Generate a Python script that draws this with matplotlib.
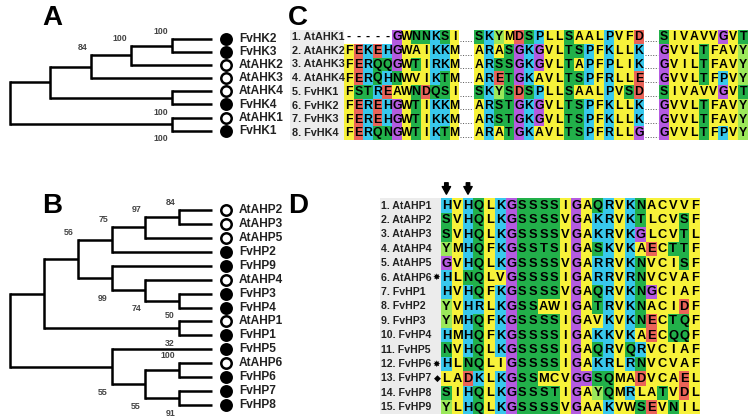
import matplotlib
matplotlib.use("Agg")
import matplotlib.pyplot as plt
from matplotlib.patches import Rectangle

# ---------------- data ----------------
# trees: (depth, bootstrap, label_side, children) ; leaves are names
tree_a = (10, None, None, [
    (50, None, None, [
        (91, "84", "a", [
            (131, "100", "a", [
                (172, "100", "a", ["FvHK2", "FvHK3"]),
                "AtAHK2"]),
            "AtAHK3"]),
        (172, "100", "b", ["AtAHK4", "FvHK4"])]),
    (172, "100", "b", ["AtAHK1", "FvHK1"])])

tree_b = (10, None, None, [
    (44, None, None, [
        (78, "56", "a", [
            (112, "75", "a", [
                (145, "97", "a", [
                    (179, "84", "a", ["AtAHP2", "AtAHP3"]),
                    "AtAHP5"]),
                "FvHP2"]),
            (112, "99", "b", [
                "FvHP9",
                (145, "74", "b", [
                    "AtAHP4",
                    (179, "50", "b", ["FvHP3", "FvHP4"])])])]),
        (179, "32", "b", ["AtAHP1", "FvHP1"])]),
    (112, "55", "b", [
        "FvHP5",
        (145, "55", "b", [
            (179, "100", "a", ["AtAHP6", "FvHP6"]),
            (179, "91", "b", ["FvHP7", "FvHP8"])])])])

c_labels = ["1. AtAHK1", "2. AtAHK2", "3. AtAHK3", "4. AtAHK4",
            "5. FvHK1", "6. FvHK2", "7. FvHK3", "8. FvHK4"]
c_block1 = ["-----GWNNKSI", "FEKEHGWAIKKM", "FERQQGWTIRKM", "FERQHNWVIKTM",
            "FSTREAWNDQSI", "FEREHGWTIKKM", "FEREHGWTIKKM", "FERQNGWTIKTM"]
c_block2 = ["SKYMDSPLLSAALPVFD", "ARASGKGVLTSPFKLLK", "ARSSGKGVLTAPFPLIK",
            "ARETGKAVLTSPFRLLE", "SKYSDSPLLSAALPVSD", "ARSTGKGVLTSPFKLLK",
            "ARSTGKGVLTSPFKLLK", "ARATGKAVLTSPFRLLG"]
c_block3 = ["SIVAVVGVT", "GVVLTFAVY", "GVILTFAVY", "GVVLTFPVY", "SIVAVVGVT",
            "GVVLTFAVY", "GVVLTFAVY", "GVVLTFPVY"]

d_labels = ["1. AtAHP1", "2. AtAHP2", "3. AtAHP3", "4. AtAHP4", "5. AtAHP5",
            "6. AtAHP6", "7. FvHP1", "8. FvHP2", "9. FvHP3", "10. FvHP4",
            "11. FvHP5", "12. FvHP6", "13. FvHP7", "14. FvHP8", "15. FvHP9"]
d_marks = ["", "", "", "", "", "\u2738", "", "", "", "", "", "\u2738", "\u25C6", "", ""]
d_seqs = ["HVHQLKGSSSSIGAQRVKNACVVF", "SVHQLKGSSSSVGAKRVKTLCVSF",
          "SVHQLKGSSSSVGAKRVKGLCVTL", "YMHQFKGSSTSIGASKVKAECTTF",
          "GVHQLKGSSSSVGARRVKNVCISF", "HLNQLVGSSSSIGARRVRNVCVAF",
          "HVHQFKGSSSSVGAQRVKNGCIAF", "YVHRLKGSSAWIGATRVKNACIDF",
          "YMHQFKGSSSSIGAVKVKNECTQF", "HMHQFKGSSSSIGAKKVKAECQQF",
          "NVHQLKGSSSSIGAQRVQRVCIAF", "HLNQLIGSSSSIGAKRLRNVCVAF",
          "LADKLKGSSMCVGGSQMADVCAEL", "SIHQLKGSSSTIGAYQMRLATVDL",
          "YLHQLKGSSSSVGAAKVWSEVNIL"]
d_arrow_cols = [0, 2]

# ---------------- style ----------------
YEL, GRN, CYN, PUR, RED, LGR = "#f7f23a", "#22b04a", "#38c8ec", "#b45be0", "#ea6458", "#9be85a"
res_col = {}
for r in "AVLIMFWC": res_col[r] = YEL
for r in "STNQ": res_col[r] = GRN
for r in "KRHP": res_col[r] = CYN
for r in "DE": res_col[r] = RED
res_col["G"] = PUR
res_col["Y"] = LGR

BF = dict(family=["Liberation Sans", "DejaVu Sans"], fontweight="bold")

fig = plt.figure(figsize=(7.55, 4.19), dpi=100)
ax = fig.add_axes([0, 0, 1, 1])
ax.set_xlim(0, 755)
ax.set_ylim(419, 0)
ax.axis("off")


def draw_tree(tree, y0, dy, leaf_end):
    counter = [0]

    def rec(node, parent_x):
        if isinstance(node, str):
            y = y0 + counter[0] * dy
            counter[0] += 1
            ax.plot([parent_x, leaf_end], [y, y], color="black", lw=1.8, solid_capstyle="butt")
            filled = node.startswith("Fv")
            ax.plot(leaf_end + 14, y, "o", ms=7.5, mfc="black" if filled else "white",
                    mec="black", mew=1.8)
            ax.text(leaf_end + 27, y, node, ha="left", va="center", fontsize=8.6, color="#222", **BF)
            return y
        x, bs, side, kids = node
        ys = [rec(k, x) for k in kids]
        y = (ys[0] + ys[-1]) / 2
        ax.plot([x, x], [ys[0], ys[-1]], color="black", lw=1.8, solid_capstyle="projecting")
        if parent_x is not None:
            ax.plot([parent_x, x], [y, y], color="black", lw=1.8, solid_capstyle="butt")
        if bs:
            if side == "a":
                ax.text(x - 4, ys[0] - 3, bs, ha="right", va="bottom", fontsize=6.3, color="#444", **BF)
            else:
                ax.text(x - 4, ys[-1] + 3.5, bs, ha="right", va="top", fontsize=6.3, color="#444", **BF)
        return y

    rec(tree, None)


draw_tree(tree_a, 39, 13.1, 212)
draw_tree(tree_b, 210, 13.93, 212)

for t, x, y in [("A", 52, 18), ("B", 52, 206), ("C", 298, 18), ("D", 298, 206)]:
    ax.text(x, y, t, ha="center", va="center", fontsize=20, **BF)


def draw_block(seqs, x0, cw, y0, rh, fs):
    for i, s in enumerate(seqs):
        y = y0 + i * rh
        for j, ch in enumerate(s):
            x = x0 + j * cw
            if ch != "-":
                ax.add_patch(Rectangle((x, y - rh / 2), cw, rh, color=res_col.get(ch, YEL), lw=0))
                ax.text(x + cw / 2, y + 0.4, ch, ha="center", va="center", fontsize=fs, **BF)
            else:
                ax.text(x + cw / 2, y, "-", ha="center", va="center", fontsize=fs, **BF)


# panel C
rh_c, y0_c = 13.7, 37
ax.add_patch(Rectangle((290, y0_c - rh_c / 2), 344 - 290, rh_c * len(c_labels), color="#ececec", lw=0))
for i, lab in enumerate(c_labels):
    ax.text(292, y0_c + i * rh_c, lab, ha="left", va="center", fontsize=7.8, color="#222", **BF)
b1x, cw1 = 344, 9.6
b2x, cw2 = 474, 10.0
b3x, cw3 = 659, 9.9
draw_block(c_block1, b1x, cw1, y0_c, rh_c, 8.8)
draw_block(c_block2, b2x, cw2, y0_c, rh_c, 8.8)
draw_block(c_block3, b3x, cw3, y0_c, rh_c, 8.8)
for i in range(len(c_labels)):
    y = y0_c + i * rh_c + 4
    ax.plot([b1x + 12 * cw1 + 1, b2x - 1], [y, y], ls=":", color="#555", lw=0.7)
    ax.plot([b2x + 17 * cw2 + 1, b3x - 1], [y, y], ls=":", color="#555", lw=0.7)

# panel D
rh_d, y0_d = 14.4, 205.5
cw_d, x0_d = 10.8, 441
ax.add_patch(Rectangle((380, y0_d - rh_d / 2), x0_d - 380, rh_d * len(d_labels), color="#ececec", lw=0))
for i, lab in enumerate(d_labels):
    y = y0_d + i * rh_d
    ax.text(381, y, lab, ha="left", va="center", fontsize=7.6, color="#222", **BF)
    if d_marks[i]:
        ax.text(440.5, y, d_marks[i], ha="right", va="center", fontsize=6.5,
                family=["DejaVu Sans"], fontweight="bold")
draw_block(d_seqs, x0_d, cw_d, y0_d, rh_d, 9.3)
for c in d_arrow_cols:
    xc = x0_d + c * cw_d + cw_d / 2
    ax.annotate("", xy=(xc, 197), xytext=(xc, 180),
                arrowprops=dict(arrowstyle="simple,head_width=0.6,head_length=0.55,tail_width=0.25",
                                color="black"))

fig.savefig("out.png", dpi=100)
